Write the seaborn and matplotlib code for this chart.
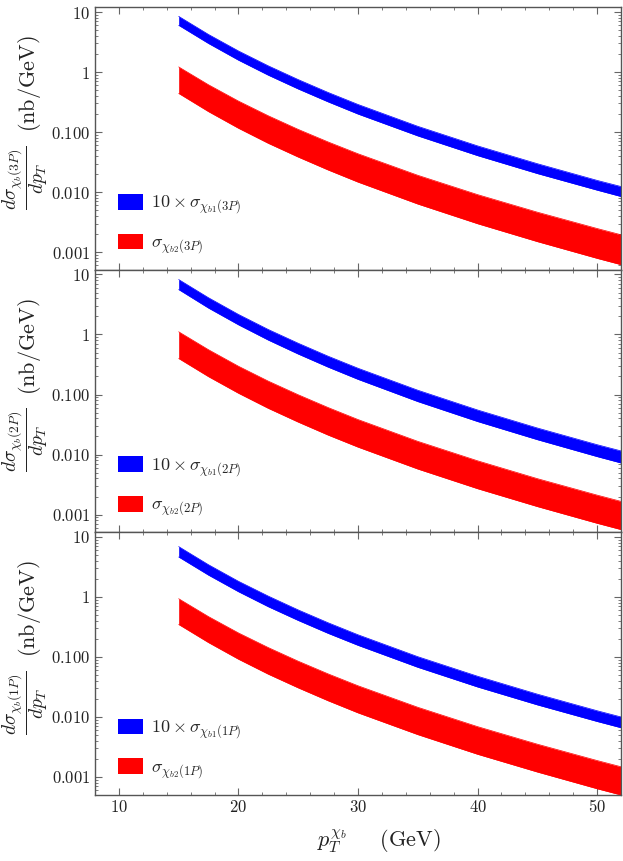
import numpy as np
import pandas as pd
import seaborn as sns
import matplotlib.pyplot as plt
from matplotlib.ticker import FixedLocator, FixedFormatter, MultipleLocator, LogLocator, NullFormatter

# transverse momentum grid (GeV)
pt = [15, 17.5, 20, 22.5, 25, 27.5, 30, 35, 40, 45, 50, 52]

# 3P : 10 x chi_b1 band and chi_b2 band (nb/GeV)
b1_3p_hi = [8.49, 4.23, 2.25, 1.27, 0.750, 0.458, 0.289, 0.125, 0.0590, 0.0298, 0.0157, 0.0124]
b1_3p_lo = [6.01, 2.99, 1.58, 0.887, 0.523, 0.319, 0.200, 0.0865, 0.0406, 0.0204, 0.0108, 0.00845]
b2_3p_hi = [1.22, 0.614, 0.329, 0.187, 0.111, 0.0686, 0.0436, 0.0191, 0.0091, 0.00464, 0.00248, 0.00195]
b2_3p_lo = [0.441, 0.219, 0.116, 0.0650, 0.0384, 0.0234, 0.0147, 0.00634, 0.00298, 0.00150, 0.000789, 0.000619]

# 2P
b1_2p_hi = [8.24, 4.09, 2.16, 1.21, 0.715, 0.435, 0.274, 0.118, 0.0553, 0.0277, 0.0146, 0.0115]
b1_2p_lo = [5.60, 2.75, 1.45, 0.806, 0.472, 0.286, 0.179, 0.0763, 0.0355, 0.0177, 0.00925, 0.00724]
b2_2p_hi = [1.11, 0.557, 0.296, 0.167, 0.0991, 0.0607, 0.0383, 0.0166, 0.00787, 0.00397, 0.00211, 0.00166]
b2_2p_lo = [0.398, 0.198, 0.105, 0.0588, 0.0347, 0.0211, 0.0133, 0.00574, 0.00270, 0.00136, 0.000716, 0.000562]

# 1P
b1_1p_hi = [6.89, 3.43, 1.82, 1.03, 0.607, 0.371, 0.234, 0.101, 0.0477, 0.0240, 0.0127, 0.0100]
b1_1p_lo = [4.62, 2.30, 1.22, 0.685, 0.405, 0.247, 0.156, 0.0672, 0.0316, 0.0159, 0.00841, 0.00661]
b2_1p_hi = [0.933, 0.469, 0.251, 0.143, 0.0849, 0.0522, 0.0331, 0.0145, 0.00690, 0.00352, 0.00188, 0.00148]
b2_1p_lo = [0.347, 0.173, 0.0916, 0.0515, 0.0305, 0.0186, 0.0117, 0.00508, 0.00239, 0.00121, 0.000637, 0.000501]

states = ["3P", "2P", "1P"]
bands = {
    "3P": (b1_3p_hi, b1_3p_lo, b2_3p_hi, b2_3p_lo),
    "2P": (b1_2p_hi, b1_2p_lo, b2_2p_hi, b2_2p_lo),
    "1P": (b1_1p_hi, b1_1p_lo, b2_1p_hi, b2_1p_lo),
}

yticks = [0.001, 0.01, 0.1, 1, 10]
ytick_labels = [r"$0.001$", r"$0.010$", r"$0.100$", r"$1$", r"$10$"]
xticks = [10, 20, 30, 40, 50]

sns.set_theme(style="ticks")
plt.rcParams["mathtext.fontset"] = "cm"
plt.rcParams["font.family"] = ["DejaVu Serif"]
plt.rcParams["axes.edgecolor"] = "#555555"
plt.rcParams["axes.linewidth"] = 1.0

fig = plt.figure(figsize=(6.23, 8.61), dpi=100)
gs = fig.add_gridspec(3, 1, left=0.1525, right=0.9968, top=0.9915, bottom=0.0772, hspace=0)
axes = [fig.add_subplot(gs[i]) for i in range(3)]

for ax, st in zip(axes, states):
    hi1, lo1, hi2, lo2 = bands[st]
    df = pd.DataFrame({"pt": pt, "hi1": hi1, "lo1": lo1, "hi2": hi2, "lo2": lo2})

    ax.fill_between(df["pt"], df["lo1"], df["hi1"], color="#0000ff", lw=0,
                    label=r"$10\times\sigma_{\chi_{b1}(%s)}$" % st)
    ax.fill_between(df["pt"], df["lo2"], df["hi2"], color="#ff0000", lw=0,
                    label=r"$\sigma_{\chi_{b2}(%s)}$" % st)
    for col, c in [("hi1", "#0000ff"), ("lo1", "#0000ff"), ("hi2", "#ff0000"), ("lo2", "#ff0000")]:
        sns.lineplot(data=df, x="pt", y=col, ax=ax, color=c, lw=0.5)

    ax.set_yscale("log")
    ax.set_xlim(8, 52)
    ax.set_ylim(5.1e-4, 12)

    ax.yaxis.set_major_locator(FixedLocator(yticks))
    ax.yaxis.set_major_formatter(FixedFormatter(ytick_labels))
    ax.yaxis.set_minor_locator(LogLocator(base=10, subs=np.arange(2, 10)))
    ax.yaxis.set_minor_formatter(NullFormatter())
    ax.xaxis.set_major_locator(FixedLocator(xticks))
    ax.xaxis.set_minor_locator(MultipleLocator(2))
    ax.xaxis.set_major_formatter(FixedFormatter([r"$%d$" % t for t in xticks]))

    ax.tick_params(which="both", direction="in", top=True, right=True,
                   color="#666666", labelsize=12, labelcolor="#222222")
    ax.tick_params(which="major", length=5, width=0.8)
    ax.tick_params(which="minor", length=2.5, width=0.6)

    ax.set_xlabel("")
    ax.set_ylabel("")
    # y label: fraction and unit as two rotated texts
    ax.text(-0.133, 0.35, r"$\dfrac{d\sigma_{\chi_b(%s)}}{dp_T}$" % st, transform=ax.transAxes,
            rotation=90, ha="center", va="center", fontsize=14, color="#222222")
    ax.text(-0.1245, 0.708, r"$\mathrm{(nb/GeV)}$", transform=ax.transAxes,
            rotation=90, ha="center", va="center", fontsize=16, color="#222222")

    ax.legend(loc="lower left", bbox_to_anchor=(0.044, 0.052), frameon=False,
              borderpad=0, borderaxespad=0, fontsize=13, handlelength=1.4,
              handleheight=0.95, handletextpad=0.4, labelspacing=0.95)

for ax in axes[:2]:
    ax.tick_params(labelbottom=False)

axes[2].set_xlabel(r"$p_T^{\chi_b}\quad\ \ \mathrm{(GeV)}$", fontsize=16, color="#222222")
axes[2].xaxis.set_label_coords(0.54, -0.125)

fig.savefig("out.png", dpi=100)
